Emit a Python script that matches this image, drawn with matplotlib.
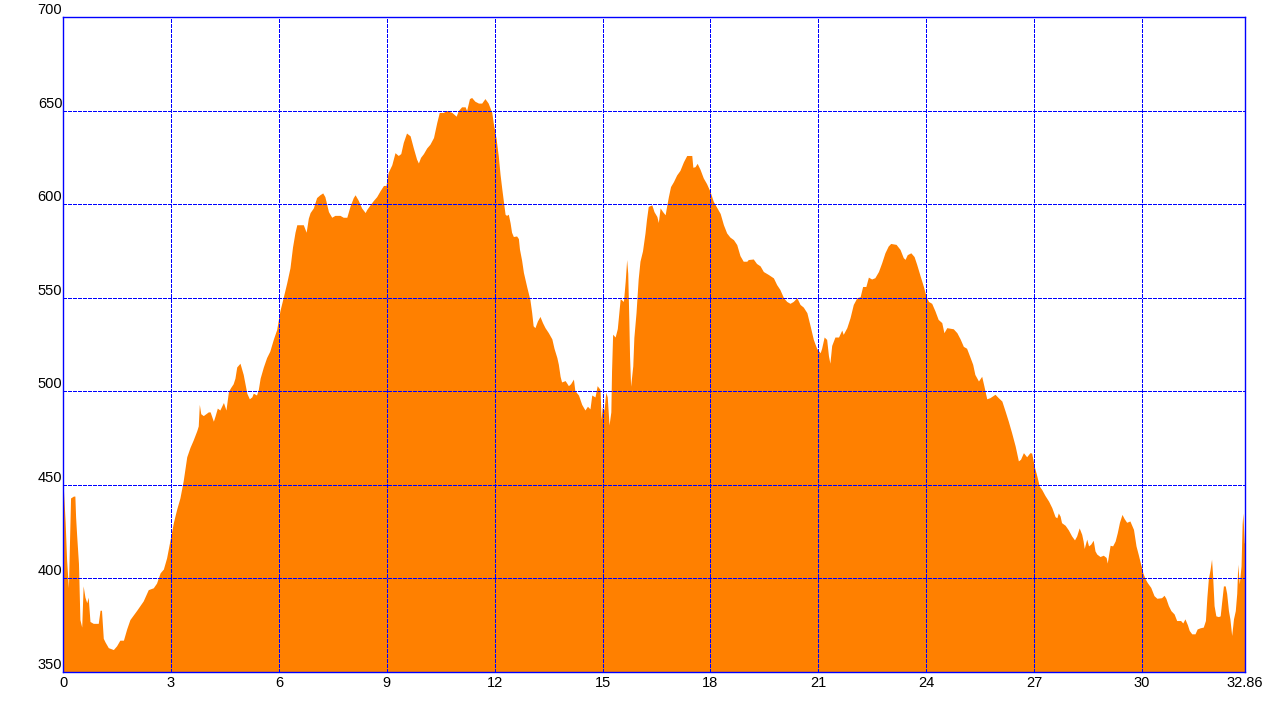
import matplotlib
matplotlib.use("Agg")
import matplotlib.pyplot as plt

distance_km = [
    0.00, 0.06, 0.10, 0.15, 0.18, 0.21, 0.29, 0.33, 0.35, 0.38, 0.43, 0.47, 0.52, 0.56, 0.61, 0.66, 0.70, 0.75, 0.84, 0.98,
    1.03, 1.07, 1.12, 1.17, 1.26, 1.40, 1.49, 1.58, 1.68, 1.77, 1.86, 2.05, 2.23, 2.37, 2.51, 2.60, 2.70, 2.79, 2.88, 2.97,
    3.07, 3.16, 3.25, 3.34, 3.44, 3.53, 3.62, 3.72, 3.76, 3.79, 3.83, 3.90, 4.04, 4.09, 4.18, 4.23, 4.29, 4.36, 4.46, 4.53,
    4.60, 4.66, 4.73, 4.78, 4.83, 4.92, 5.01, 5.11, 5.18, 5.25, 5.29, 5.38, 5.43, 5.48, 5.57, 5.66, 5.75, 5.85, 5.94, 6.03,
    6.12, 6.22, 6.31, 6.38, 6.45, 6.50, 6.68, 6.76, 6.82, 6.87, 6.96, 7.05, 7.14, 7.22, 7.28, 7.38, 7.47, 7.56, 7.70, 7.79,
    7.89, 7.98, 8.07, 8.12, 8.21, 8.30, 8.40, 8.44, 8.53, 8.63, 8.72, 8.81, 8.91, 8.98, 9.04, 9.14, 9.23, 9.32, 9.39, 9.46,
    9.55, 9.65, 9.74, 9.83, 9.88, 9.94, 10.02, 10.11, 10.20, 10.30, 10.39, 10.46, 10.57, 10.67, 10.81, 10.93, 10.99, 11.08, 11.18, 11.22,
    11.30, 11.36, 11.45, 11.55, 11.64, 11.73, 11.82, 11.92, 11.96, 12.04, 12.10, 12.15, 12.20, 12.24, 12.29, 12.33, 12.38, 12.43, 12.47, 12.52,
    12.61, 12.66, 12.69, 12.75, 12.80, 12.89, 12.98, 13.03, 13.07, 13.12, 13.19, 13.26, 13.33, 13.40, 13.49, 13.59, 13.65, 13.73, 13.77, 13.82,
    13.86, 13.96, 14.05, 14.11, 14.19, 14.23, 14.33, 14.42, 14.51, 14.58, 14.65, 14.70, 14.79, 14.85, 14.93, 14.96, 14.99, 15.04, 15.09, 15.13,
    15.18, 15.23, 15.25, 15.28, 15.35, 15.41, 15.49, 15.58, 15.63, 15.67, 15.70, 15.73, 15.75, 15.78, 15.84, 15.87, 15.93, 15.99, 16.04, 16.11,
    16.18, 16.22, 16.27, 16.37, 16.43, 16.51, 16.55, 16.60, 16.67, 16.74, 16.78, 16.83, 16.89, 16.97, 17.06, 17.15, 17.25, 17.34, 17.48, 17.51,
    17.57, 17.63, 17.71, 17.80, 17.89, 17.99, 18.08, 18.17, 18.27, 18.36, 18.45, 18.54, 18.64, 18.73, 18.82, 18.91, 19.01, 19.05, 19.19, 19.28,
    19.38, 19.47, 19.61, 19.75, 19.84, 19.93, 20.03, 20.12, 20.21, 20.30, 20.40, 20.49, 20.58, 20.68, 20.77, 20.86, 20.95, 21.05, 21.09, 21.16,
    21.23, 21.28, 21.32, 21.37, 21.46, 21.56, 21.65, 21.69, 21.79, 21.88, 21.97, 22.07, 22.16, 22.23, 22.32, 22.39, 22.48, 22.57, 22.67, 22.76,
    22.85, 22.94, 23.01, 23.16, 23.27, 23.36, 23.41, 23.47, 23.57, 23.66, 23.73, 23.83, 23.92, 23.99, 24.06, 24.15, 24.24, 24.33, 24.43, 24.49,
    24.57, 24.75, 24.85, 24.94, 25.03, 25.12, 25.22, 25.29, 25.35, 25.45, 25.54, 25.60, 25.68, 25.77, 25.91, 26.00, 26.10, 26.19, 26.28, 26.37,
    26.47, 26.56, 26.62, 26.70, 26.79, 26.88, 26.93, 27.00, 27.07, 27.14, 27.21, 27.30, 27.40, 27.49, 27.58, 27.63, 27.67, 27.72, 27.76, 27.86,
    27.95, 28.04, 28.12, 28.18, 28.25, 28.32, 28.36, 28.39, 28.46, 28.51, 28.57, 28.64, 28.69, 28.74, 28.83, 28.92, 29.00, 29.03, 29.07, 29.11,
    29.18, 29.25, 29.31, 29.37, 29.44, 29.50, 29.57, 29.66, 29.76, 29.83, 29.89, 29.96, 30.02, 30.08, 30.14, 30.24, 30.33, 30.41, 30.54, 30.61,
    30.66, 30.73, 30.80, 30.89, 30.96, 31.07, 31.13, 31.19, 31.26, 31.31, 31.38, 31.47, 31.53, 31.61, 31.70, 31.76, 31.80, 31.84, 31.89, 31.93,
    31.96, 32.00, 32.05, 32.12, 32.17, 32.21, 32.26, 32.31, 32.35, 32.40, 32.44, 32.49, 32.54, 32.59, 32.63, 32.66, 32.70, 32.75, 32.78, 32.80,
    32.84, 32.86,
]

elevation_m = [
    452, 430, 410, 395, 419, 443, 444, 444, 433, 423, 408, 378, 374, 396, 390, 387, 390, 377, 376, 376,
    383, 383, 368, 366, 363, 362, 364, 367, 367, 373, 378, 383, 388, 394, 395, 397.5, 403, 405, 411, 420,
    430, 437, 443, 452, 465, 470, 474, 479, 481.5, 493, 488, 487, 489, 489, 484, 487, 491, 490, 494, 490,
    500, 502, 504, 507, 513, 515, 509, 499, 496, 497, 499, 498, 501, 507, 513, 518, 521.5, 528, 533, 543,
    550, 558, 566, 577, 585, 589, 589, 585, 592.5, 595.5, 598, 603.5, 605, 606, 604, 596, 593, 594, 594, 593,
    593, 599, 603.5, 605, 602, 598, 595.5, 597, 599.5, 602, 604, 607, 610, 610, 617, 621, 627.5, 626, 627, 633,
    638, 636.5, 630, 624, 622, 625, 627, 630, 632, 635.6, 643.6, 649, 649, 650, 649, 647, 650, 652, 652, 650,
    656.4, 657, 655, 654, 654, 656.4, 654, 649, 643.6, 635, 626, 616, 608, 602, 594.6, 594, 594.6, 590, 585, 582.7,
    583, 581.6, 576, 570, 563.5, 556, 549, 542, 535, 534, 537.6, 540, 536.7, 534, 531.4, 528, 523, 518, 514.5, 508,
    505, 505.7, 503, 504, 506.5, 500.4, 498, 493, 490, 492, 490.6, 498, 497, 503, 501, 485, 491.5, 490, 499.5, 497,
    482, 489, 511, 530.5, 529, 533.5, 549.5, 548, 559, 570.4, 563, 538.5, 519, 502.7, 513.6, 528.7, 542, 560, 569.5, 575,
    584.6, 591.7, 598.8, 599.6, 596, 593.4, 590.2, 598, 596, 594.3, 598.8, 604, 609.4, 612, 615.6, 618, 622.7, 626, 626, 619.7,
    620, 621.8, 618.6, 614, 611, 606.7, 601.4, 598.4, 595, 589, 584.6, 582.4, 581, 578.4, 572.5, 569.5, 569.5, 570.4, 570.7, 568.3,
    567, 564, 562.4, 560.6, 557, 554.4, 550, 548, 547, 548, 550, 546.4, 545, 542, 535, 527.7, 523, 520.6, 523, 529,
    527.7, 519, 515, 524.5, 529, 529, 532.7, 530.4, 534, 539.3, 546.4, 550, 550.5, 556, 556, 561, 560, 560.7, 564, 568.7,
    574, 577.6, 579, 578.5, 575.8, 571.4, 570.5, 573, 574, 572, 568, 561.6, 556, 551, 548, 547, 543, 538.4, 536.7, 531.3,
    534, 533.4, 531.3, 528, 524, 523, 518, 514.4, 509, 505.5, 508, 503, 496, 496.6, 498.4, 496.6, 494.8, 489.5, 484, 478,
    470.8, 462.8, 463.7, 467.2, 465, 467.2, 467, 460, 455, 449.4, 447.5, 444.3, 441.3, 437.8, 433, 432.4, 435, 433.3, 429.8, 428.4,
    425.9, 422.7, 420.6, 422.7, 427, 423.6, 420, 416, 421, 417.4, 418.3, 420.4, 414.7, 413, 411.7, 412.4, 411.2, 408.2, 413, 417.7,
    417.4, 420, 424.5, 430, 434.2, 432, 430, 430.7, 426.2, 417.4, 413, 407.6, 403, 400, 397.9, 395.2, 390.8, 389.4, 389.7, 391,
    389.4, 385.5, 382.8, 381, 377.5, 377.5, 376.2, 378.4, 375.2, 372.2, 370.4, 370.4, 373, 373.6, 374, 377.5, 390, 399.6, 405, 410.3,
    401.4, 385.5, 380, 379.6, 380, 387.2, 396, 396, 392, 382.8, 378.4, 369.5, 378.4, 382.8, 392, 407.6, 397, 406.7, 429, 435,
    419, 419,
]

x_ticks = [0, 3, 6, 9, 12, 15, 18, 21, 24, 27, 30, 32.86]
x_tick_labels = ["0", "3", "6", "9", "12", "15", "18", "21", "24", "27", "30", "32.86"]
y_ticks = [350, 400, 450, 500, 550, 600, 650, 700]
y_tick_labels = ["350", "400", "450", "500", "550", "600", "650", "700"]

FILL = "#FF8000"
BLUE = "#0000FF"

plt.rcParams["font.family"] = ["Liberation Sans", "DejaVu Sans"]

fig = plt.figure(figsize=(12.76, 7.08), dpi=100)
ax = fig.add_axes([63 / 1276, 36 / 708, 1182 / 1276, 655 / 708])

ax.fill_between(distance_km, elevation_m, 350, color=FILL, linewidth=0, zorder=1)

ax.set_xlim(0, 32.86)
ax.set_ylim(350, 700)

# gridlines (inner only), crisp 1px dashed blue
for xv in x_ticks[1:-1]:
    ax.axvline(xv, color=BLUE, lw=0.72, linestyle=(0, (4, 2)), zorder=3,
               antialiased=False)
for yv in y_ticks[1:-1]:
    ax.axhline(yv, color=BLUE, lw=0.72, linestyle=(0, (4, 2)), zorder=3,
               antialiased=False)

for s in ax.spines.values():
    s.set_color(BLUE)
    s.set_linewidth(1.0)
    s.set_zorder(4)

ax.set_xticks(x_ticks)
ax.set_xticklabels(x_tick_labels)
ax.set_yticks(y_ticks)
ax.set_yticklabels(y_tick_labels)
ax.tick_params(axis="both", length=0, labelsize=10.5, colors="black")
ax.tick_params(axis="x", pad=3)
ax.tick_params(axis="y", pad=0.5)
for lbl in ax.get_yticklabels():
    lbl.set_verticalalignment("bottom")

fig.savefig("out.png", dpi=100, facecolor="white")
